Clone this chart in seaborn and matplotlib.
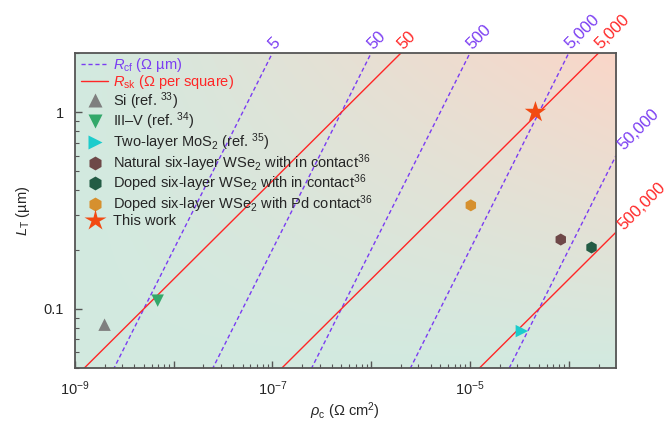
"""
Transfer length versus specific contact resistivity, with lines of constant
contact-front resistance and sheet resistance.
"""

import numpy as np
import pandas as pd
import matplotlib
matplotlib.use('Agg')
import matplotlib.pyplot as plt
from matplotlib.lines import Line2D
import seaborn as sns

# Lines of constant R_cf (Ohm um) and R_sk (Ohm per square)
rcf_values = [5, 50, 500, 5000, 50000]
rcf_labels = ['5', '50', '500', '5,000', '50,000']
rsk_values = [50, 5000, 500000]
rsk_labels = ['50', '5,000', '500,000']

# Data points (rho_c in Ohm cm^2, L_T in um)
names = ['Si (ref. $^{33}$)',
         'III\u2013V (ref. $^{34}$)',
         'Two-layer MoS$_2$ (ref. $^{35}$)',
         'Natural six-layer WSe$_2$ with in contact$^{36}$',
         'Doped six-layer WSe$_2$ with in contact$^{36}$',
         'Doped six-layer WSe$_2$ with Pd contact$^{36}$',
         'This work']
rho_c = [2.0e-9, 6.9e-9, 3.35e-5, 8.3e-5, 1.7e-4, 1.02e-5, 4.6e-5]
l_t = [0.083, 0.11, 0.077, 0.225, 0.205, 0.336, 1.0]
markers = ['^', 'v', '>', 'h', 'h', 'h', '*']
colors = ['#7f7f7f', '#33a86a', '#1ccccc', '#6e4848',
          '#235c45', '#d6902e', '#f24a12']
sizes = [80, 80, 80, 75, 75, 75, 260]
leg_sizes = [10, 10, 10, 10, 10, 10, 16]

XMIN, XMAX = 1e-9, 3e-4
YMIN, YMAX = 0.05, 2.0
PURPLE = '#7a3cf2'
RED = '#ff2626'

sns.set_style('ticks')
plt.rcParams['font.family'] = ['Liberation Sans', 'DejaVu Sans']
plt.rcParams['mathtext.fontset'] = 'custom'
plt.rcParams['mathtext.rm'] = 'Liberation Sans'
plt.rcParams['mathtext.it'] = 'Liberation Sans:italic'
plt.rcParams['mathtext.bf'] = 'Liberation Sans:bold'

fig = plt.figure(figsize=(6.68, 4.21), dpi=100)
ax = fig.add_axes([0.112, 0.126, 0.81, 0.748])
ax.set_xscale('log')
ax.set_yscale('log')
ax.set_xlim(XMIN, XMAX)
ax.set_ylim(YMIN, YMAX)

# Background gradient: mint to peach towards the top right
u = np.linspace(0, 1, 300)
v = np.linspace(0, 1, 200)
uu, vv = np.meshgrid(u, v)
w = (uu * vv)[..., None]
c0 = np.array([0xd2, 0xea, 0xe0]) / 255
c1 = np.array([0xfa, 0xd6, 0xc8]) / 255
img = c0 * (1 - w) + c1 * w
ax.imshow(img, extent=[0, 1, 0, 1], transform=ax.transAxes,
          origin='lower', aspect='auto', zorder=0)

rho = np.logspace(-9, np.log10(XMAX), 400)


def end_label(x, y, text, color, offset):
    """Puts a rotated value label at the end of a line."""
    ax.annotate(text, (x, y), xytext=offset, textcoords='offset points',
                rotation=45, rotation_mode='anchor', ha='left',
                va='bottom', color=color, fontsize=12,
                annotation_clip=False)


# R_cf lines: L_T = rho_c / R_cf
for r, lab in zip(rcf_values, rcf_labels):
    lt = rho / (r * 1e-4) * 1e4
    df = pd.DataFrame({'rho': rho, 'lt': lt})
    df = df[(df['lt'] >= YMIN * 0.9) & (df['lt'] <= YMAX * 1.1)]
    sns.lineplot(data=df, x='rho', y='lt', ax=ax, color=PURPLE, lw=1,
                 linestyle=(0, (3, 2)), zorder=2)
    x_top = YMAX * 1e-4 * r * 1e-4
    if x_top <= XMAX:
        end_label(x_top, YMAX, lab, PURPLE, (3, 1))
    else:
        end_label(XMAX, XMAX / (r * 1e-4) * 1e4, lab, PURPLE, (7, 2))

# R_sk lines: L_T = sqrt(rho_c / R_sk)
for r, lab in zip(rsk_values, rsk_labels):
    lt = np.sqrt(rho / r) * 1e4
    df = pd.DataFrame({'rho': rho, 'lt': lt})
    df = df[(df['lt'] >= YMIN * 0.9) & (df['lt'] <= YMAX * 1.1)]
    sns.lineplot(data=df, x='rho', y='lt', ax=ax, color=RED, lw=1, zorder=2)
    x_top = r * (YMAX * 1e-4) ** 2
    if x_top <= XMAX:
        end_label(x_top, YMAX, lab, RED, (3, 1))
    else:
        end_label(XMAX, np.sqrt(XMAX / r) * 1e4, lab, RED, (7, 0))

# Data points
for x, y, m, c, s in zip(rho_c, l_t, markers, colors, sizes):
    sns.scatterplot(x=[x], y=[y], ax=ax, marker=m, color=c, s=s,
                    edgecolor='none', zorder=4)

# Legend
handles = [Line2D([], [], color=PURPLE, lw=1, linestyle=(0, (3, 2))),
           Line2D([], [], color=RED, lw=1)]
for m, c, ms in zip(markers, colors, leg_sizes):
    handles.append(Line2D([], [], marker=m, color=c, linestyle='none',
                          markersize=ms, markeredgecolor='none'))
labels = ['$R_{\\rm cf}$ (\u03a9 \u00b5m)',
          '$R_{\\rm sk}$ (\u03a9 per square)'] + names
leg = ax.legend(handles, labels, loc='upper left', frameon=False,
                fontsize=10.5, handlelength=1.9, handletextpad=0.35,
                labelspacing=-0.06, borderaxespad=0.0,
                bbox_to_anchor=(0.0, 1.01))
leg.get_texts()[0].set_color(PURPLE)
leg.get_texts()[1].set_color(RED)

# Ticks
decades = [1e-9, 1e-8, 1e-7, 1e-6, 1e-5, 1e-4]
dec_labels = ['$10^{-9}$', '', '$10^{-7}$', '', '$10^{-5}$', '']
ax.set_xticks(decades)
ax.set_xticklabels(dec_labels)
ax.set_xticks([m * d for d in decades for m in range(2, 10)
               if m * d <= XMAX], minor=True)
ax.set_xticklabels([], minor=True)
ax.set_yticks([0.1, 1])
ax.set_yticklabels(['0.1', '1'])
ax.set_yticks([0.05, 0.06, 0.07, 0.08, 0.09, 0.2, 0.3, 0.4, 0.5,
               0.6, 0.7, 0.8, 0.9, 2], minor=True)
ax.set_yticklabels([], minor=True)
ax.tick_params(which='both', direction='in', color='#555555',
               labelsize=10.5, top=False, right=False)
ax.tick_params(which='major', length=5, width=1, pad=8)
ax.tick_params(which='minor', length=3, width=0.8)
for sp in ax.spines.values():
    sp.set_color('#555555')
    sp.set_linewidth(1.3)
    sp.set_visible(True)

ax.set_xlabel('$\\rho_{\\rm c}$ (\u03a9 cm$^2$)', fontsize=10.5, labelpad=2)
ax.set_ylabel('$L_{\\rm T}$ (\u00b5m)', fontsize=10.5, labelpad=8)

fig.savefig('out.png', dpi=100)
